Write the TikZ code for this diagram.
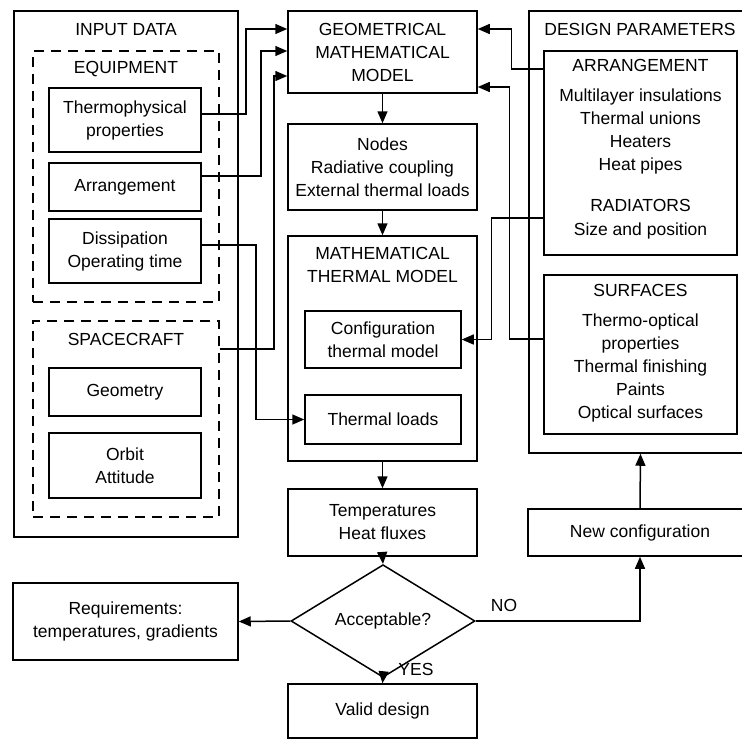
\documentclass[tikz,border=0pt]{standalone}
\usepackage{fontspec}
\setmainfont{Liberation Sans}
\usetikzlibrary{arrows.meta,shapes.geometric}
\begin{document}
\begin{tikzpicture}[x=1pt,y=-1pt,
  font=\fontsize{17.5}{23}\selectfont,
  line width=1.5pt,
  box/.style={draw, rectangle, inner sep=0pt, align=center},
  dbox/.style={draw, dash pattern=on 10pt off 7pt, rectangle, inner sep=0pt},
  lbl/.style={inner sep=0pt, align=center},
  arr/.style={-{Triangle[length=12pt,width=10pt]}, line width=1.5pt}
]
\useasboundingbox (0,0) rectangle (742,740);
\clip (0,0) rectangle (742,740);

% ---------- INPUT DATA ----------
\node[box, minimum width=224pt, minimum height=526pt] (input) at (126,274) {};
\node[lbl] (inputlbl) at (126,30) {INPUT DATA};
\node[dbox, minimum width=186pt, minimum height=251pt] (equip) at (126,176.5) {};
\node[lbl] (equiplbl) at (126,69) {EQUIPMENT};
\node[box, minimum width=152pt, minimum height=64pt] (thermo) at (125,120) {Thermophysical\\properties};
\node[box, minimum width=152pt, minimum height=48pt] (arrg) at (125,187) {Arrangement};
\node[box, minimum width=152pt, minimum height=64pt] (diss) at (125,251) {Dissipation\\Operating time};
\node[dbox, minimum width=186pt, minimum height=196pt] (space) at (126,419) {};
\node[lbl] (spacelbl) at (126,339) {SPACECRAFT};
\node[box, minimum width=152pt, minimum height=48pt] (geom) at (125,392) {Geometry};
\node[box, minimum width=152pt, minimum height=65pt] (orbit) at (125,465.5) {Orbit\\Attitude};

% ---------- centre column ----------
\node[box, minimum width=189pt, minimum height=82pt] (gmm) at (382.5,52) {GEOMETRICAL\\MATHEMATICAL\\MODEL};
\node[box, minimum width=189pt, minimum height=86pt] (nodesb) at (382.5,167) {Nodes\\Radiative coupling\\External thermal loads};
\node[box, minimum width=189pt, minimum height=225pt] (mtm) at (382.5,348.5) {};
\node[lbl] (mtmlbl) at (382.5,264.5) {MATHEMATICAL\\THERMAL MODEL};
\node[box, minimum width=156pt, minimum height=57pt] (config) at (383,339.5) {Configuration\\thermal model};
\node[box, minimum width=156pt, minimum height=49pt] (tloads) at (383,419.5) {Thermal loads};
\node[box, minimum width=189pt, minimum height=67pt] (temps) at (382.5,522.5) {Temperatures\\Heat fluxes};
\node[draw, diamond, minimum width=184pt, minimum height=75pt, inner sep=0pt] (dia) at (383,621) {Acceptable?};
\node[box, minimum width=225pt, minimum height=77pt] (req) at (125.5,621.5) {Requirements:\\temperatures, gradients};
\node[box, minimum width=189pt, minimum height=54pt] (valid) at (382.5,711) {Valid design};

% ---------- DESIGN PARAMETERS ----------
\node[box, minimum width=223pt, minimum height=442pt] (dp) at (640.5,232) {};
\node[lbl] (dplbl) at (640,29) {DESIGN PARAMETERS};
\node[box, minimum width=193pt, minimum height=204pt] (arrbox) at (640.5,153) {};
\node[lbl] (arrlbl) at (640.5,65) {ARRANGEMENT};
\node[lbl] (arrlist) at (640.5,131.5) {Multilayer insulations\\Thermal unions\\Heaters\\Heat pipes};
\node[lbl] (radlbl) at (640.5,205) {RADIATORS};
\node[lbl] (radlist) at (640.5,231) {Size and position};
\node[box, minimum width=193pt, minimum height=159pt] (surf) at (640.5,354.5) {};
\node[lbl] (surflbl) at (640.5,290) {SURFACES};
\node[lbl] (surflist) at (640.5,367.5) {Thermo-optical\\properties\\Thermal finishing\\Paints\\Optical surfaces};
\node[box, minimum width=224pt, minimum height=47pt] (newconf) at (640,532.5) {New configuration};

\node[lbl] (nolbl) at (504,605) {NO};
\node[lbl] (yeslbl) at (416,669) {YES};

% ---------- connectors ----------
\draw[arr] ([yshift=6pt]thermo.east) -- ++(44,0) |- ([yshift=23pt]gmm.west);
\draw[arr] ([yshift=11pt]arrg.east) -- ++(59,0) |- ([yshift=1pt]gmm.west);
\draw[arr] ([yshift=70pt]space.east) -- ++(54,0) |- ([yshift=-24pt]gmm.west);
\draw[arr] ([yshift=6pt]diss.east) -- ++(54,0) |- (tloads.west);
\draw[arr] ([yshift=84pt]arrbox.west) -- ++(-32,0) |- ([yshift=23pt]gmm.east);
\draw[arr] ([yshift=15.5pt]surf.west) -- ++(-34,0) |- ([yshift=-35pt]gmm.east);
\draw[arr] ([yshift=-65pt]arrbox.west) -- ++(-52,0) |- (config.east);
\draw[arr] (gmm.south) -- (nodesb.north);
\draw[arr] (nodesb.south) -- (mtm.north);
\draw[arr] (mtm.south) -- (temps.north);
\draw[arr] (temps.south) -- (dia.north);
\draw[arr] (dia.south) -- (valid.north);
\draw[arr] (dia.west) -- (req.east);
\draw[arr] (dia.east) -| (newconf.south);
\draw[arr] (newconf.north) -- (dp.south);
\end{tikzpicture}
\end{document}
